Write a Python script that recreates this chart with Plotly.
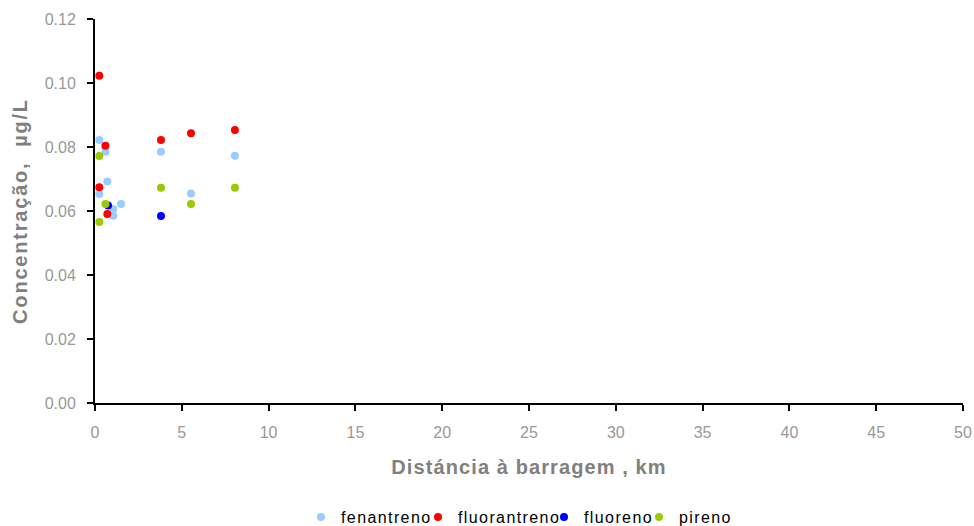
import plotly.graph_objects as go

fen_x = [0.25, 0.6, 0.71, 0.25, 1.5, 1.05, 1.05, 3.8, 5.53, 8.06]
fen_y = [0.0822, 0.0785, 0.0692, 0.0653, 0.0622, 0.0606, 0.0585, 0.0785, 0.0655, 0.0773]

flt_x = [0.25, 0.6, 0.25, 0.71, 3.8, 5.53, 8.06]
flt_y = [0.1023, 0.0804, 0.0674, 0.0591, 0.0822, 0.0843, 0.0853]

flu_x = [0.75, 3.8]
flu_y = [0.0617, 0.0584]

pir_x = [0.25, 0.6, 0.25, 3.8, 5.53, 8.06]
pir_y = [0.0772, 0.0622, 0.0566, 0.0673, 0.0622, 0.0673]

series = [
    ("fenantreno", fen_x, fen_y, "#99ccff"),
    ("fluorantreno", flt_x, flt_y, "#ff0000"),
    ("fluoreno", flu_x, flu_y, "#0000ff"),
    ("pireno", pir_x, pir_y, "#99cc00"),
]

xticks = [0, 5, 10, 15, 20, 25, 30, 35, 40, 45, 50]
yticks = [0.0, 0.02, 0.04, 0.06, 0.08, 0.10, 0.12]

W, H = 974, 526
# legend entry left edges, in container pixels
legend_px = [301, 418, 544, 639]
legend_ids = ["legend", "legend2", "legend3", "legend4"]

fig = go.Figure()
for (name, xs, ys, col), lid in zip(series, legend_ids):
    fig.add_trace(go.Scatter(
        x=xs, y=ys, mode="markers", legend=lid,
        name='<span style="letter-spacing:1.4px">%s</span>' % name,
        marker=dict(color=col, size=8, line=dict(width=0)),
    ))

leg_common = dict(orientation="h", xanchor="left", xref="container", yref="container",
                  y=(H - 517) / H, yanchor="middle",
                  font=dict(color="#000000", size=16), itemwidth=30,
                  bgcolor="rgba(0,0,0,0)")
legends = {lid: dict(x=px / W, **leg_common) for lid, px in zip(legend_ids, legend_px)}

fig.update_layout(
    width=W, height=H,
    margin=dict(l=95, r=11, t=19, b=123, autoexpand=False),
    plot_bgcolor="white", paper_bgcolor="white",
    font=dict(family="Liberation Sans, Arial", size=16, color="#999999"),
    showlegend=True,
    **legends,
    xaxis=dict(
        range=[0, 50], tickvals=xticks, ticktext=[str(v) for v in xticks],
        showgrid=False, zeroline=False, showline=True, linecolor="black", linewidth=2,
        ticks="outside", ticklen=6, tickwidth=2, tickcolor="black",
        tickfont=dict(color="#999999", size=16), ticklabelstandoff=8,
        automargin=False,
        title=dict(text='<span style="letter-spacing:1.1px"><b>Distáncia à barragem , km</b></span>',
                   font=dict(size=20, color="#808080"), standoff=20),
    ),
    yaxis=dict(
        range=[0, 0.12], tickvals=yticks, ticktext=["%.2f" % v for v in yticks],
        showgrid=False, zeroline=False, showline=True, linecolor="black", linewidth=2,
        ticks="outside", ticklen=6, tickwidth=2, tickcolor="black",
        tickfont=dict(color="#999999", size=16), ticklabelstandoff=8,
        automargin=False,
        title=dict(text='<span style="letter-spacing:1.8px"><b>Concentração,  µg/L</b></span>',
                   font=dict(size=20, color="#808080"), standoff=12),
    ),
)

fig.write_html("out.html")
